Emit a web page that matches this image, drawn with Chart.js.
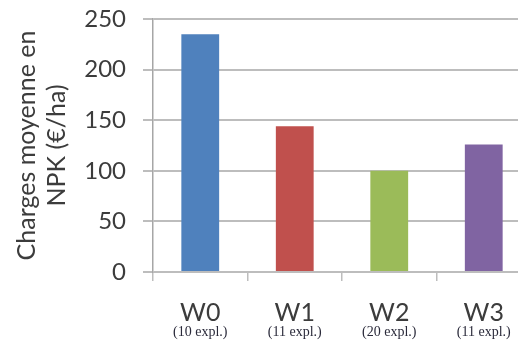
<!DOCTYPE html>
<html>
<head>
<meta charset="utf-8">
<script src="https://cdn.jsdelivr.net/npm/chart.js@4/dist/chart.umd.min.js"></script>
<style>
  html, body { margin: 0; padding: 0; background: #ffffff; overflow: hidden; }
  #wrap { width: 531px; height: 343px; }
</style>
</head>
<body>
<div id="wrap"><canvas id="c" width="531" height="343"></canvas></div>
<script>
// Groups of farms and their mean NPK fertiliser cost
const groups = ['W0', 'W1', 'W2', 'W3'];
const farmCounts = ['(10 expl.)', '(11 expl.)', '(20 expl.)', '(11 expl.)'];
const npkCost = [235, 144, 100, 126];
const barColors = ['#4f81bd', '#c0504d', '#9bbb59', '#8064a2'];
const yTicks = [0, 50, 100, 150, 200, 250];

const gridGrey = '#bdbdbd';
const textGrey = '#3c3c3c';

new Chart(document.getElementById('c'), {
  type: 'bar',
  data: {
    labels: groups,
    datasets: [{
      data: npkCost,
      backgroundColor: barColors,
      borderWidth: 0,
      barPercentage: 0.4,
      categoryPercentage: 1.0
    }]
  },
  options: {
    responsive: false,
    animation: false,
    layout: { padding: { top: 19, right: 0, left: 0, bottom: 0 } },
    plugins: { legend: { display: false }, tooltip: { enabled: false } },
    scales: {
      x: {
        position: 'bottom',
        offset: true,
        grid: { offset: true, drawOnChartArea: false, drawTicks: true, tickLength: 9, color: gridGrey, lineWidth: 1.5 },
        border: { display: false },
        ticks: { color: textGrey, font: { family: 'Lato', size: 25 }, padding: 17, maxRotation: 0 },
        afterFit: s => { s.height = 51; }
      },
      x2: {
        type: 'category',
        labels: farmCounts,
        position: 'bottom',
        offset: true,
        grid: { display: false, drawTicks: false },
        border: { display: false },
        ticks: { color: '#2a2a3a', font: { family: 'Liberation Serif', size: 14 }, padding: 1, maxRotation: 0 },
        afterFit: s => { s.height = 20; }
      },
      y: {
        min: 0,
        max: 250,
        afterBuildTicks: s => { s.ticks = yTicks.map(v => ({ value: v })); },
        grid: { color: gridGrey, lineWidth: 2, tickLength: 10 },
        border: { color: '#a6a6a6', width: 1.5 },
        ticks: { color: textGrey, font: { family: 'Lato', size: 24 }, padding: 17 },
        title: {
          display: true,
          text: ['Charges moyenne en', 'NPK (€/ha)'],
          color: textGrey,
          font: { family: 'Lato', size: 25 },
          padding: { top: 12, bottom: 0 }
        },
        afterFit: s => {
          s.width = 153;
          s.paddingTop = 0;
          s.paddingBottom = 0;
        }
      }
    }
  }
});
</script>
</body>
</html>
